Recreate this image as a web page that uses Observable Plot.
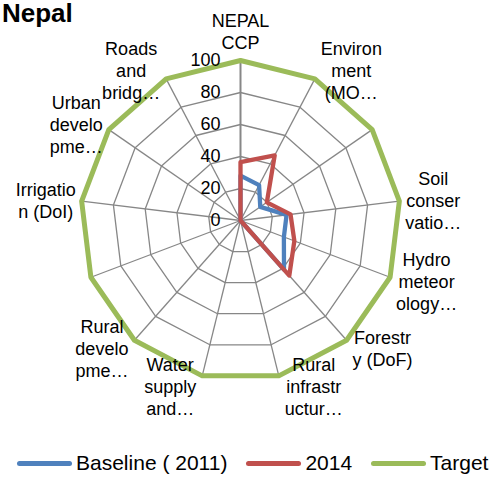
<!DOCTYPE html>
<html>
<head>
<meta charset="utf-8">
<script src="https://cdn.jsdelivr.net/npm/d3@7"></script>
<script src="https://cdn.jsdelivr.net/npm/@observablehq/plot@0.6"></script>
<style>
  html, body { margin: 0; padding: 0; background: #fff; }
  body { font-family: "Liberation Sans", Arial, sans-serif; }
  #wrap { position: relative; width: 494px; height: 478px; overflow: hidden; }
  #title { position: absolute; left: 2px; top: 0px; font-size: 26px; line-height: 27px; font-weight: bold; color: #000; white-space: nowrap; }
  #legend { position: absolute; left: 17px; top: 450px; height: 26px; display: flex; align-items: center; font-size: 21px; line-height: 26px; color: #000; white-space: nowrap; width: 480px; }
  .item { display: flex; align-items: center; margin-right: 19px; white-space: nowrap; flex: none; }
  .sw { width: 55px; height: 5px; border-radius: 3px; margin-right: 4px; flex: none; }
</style>
</head>
<body>
<div id="wrap">
  <div id="chart"></div>
  <div id="title">Nepal</div>
  <div id="legend"></div>
</div>
<script>
// ---- data ----
const categories = [
  "NEPAL\nCCP",
  "Environ\nment\n(MO…",
  "",
  "Soil\nconser\nvatio…",
  "Hydro\nmeteor\nology…",
  "Forestr\ny (DoF)",
  "Rural\ninfrastr\nuctur…",
  "Water\nsupply\nand…",
  "Rural\ndevelo\npme…",
  "",
  "Irrigatio\nn (DoI)",
  "Urban\ndevelo\npme…",
  "Roads\nand\nbridg…"
];
const baseline2011 = [28, 25, 15, 29, 29, 41, 0, 0, 0, 0, 0, 0, 0];
const values2014   = [36.5, 46, 20, 31.5, 36, 46, 0, 0, 0, 0, 0, 0, 0];
const target       = [100, 100, 100, 100, 100, 100, 100, 100, 100, 100, 100, 100, 100];
const seriesNames  = ["Baseline ( 2011)", "2014", "Target"];
const seriesColors = ["#4F81BD", "#C0504D", "#9BBB59"];
const ringLevels   = [20, 40, 60, 80, 100];
const tickValues   = [0, 20, 40, 60, 80, 100];

// ---- layout helpers ----
const n = categories.length;
const ang = i => (i * 2 * Math.PI) / n;
const W = 494, H = 478;
const mL = 80, mR = 94, mT = 60, mB = 98;
const pxPerUnit = (W - mL - mR) / 200; // 1.6
const font = "18px 'Liberation Sans', Arial, sans-serif";

const series = [baseline2011, values2014, target];
const seriesPts = [];
series.forEach((vals, s) => {
  vals.forEach((v, i) => seriesPts.push({s: seriesNames[s], i, v}));
});

const ringPts = [];
ringLevels.forEach(l => {
  for (let i = 0; i < n; i++) ringPts.push({l, i});
});

const spokes = d3.range(n);

// measure label widths
const ctx = document.createElement("canvas").getContext("2d");
ctx.font = font;
const labels = categories
  .map((t, i) => ({t, i}))
  .filter(d => d.t !== "")
  .map(d => {
    const lines = d.t.split("\n");
    const w = d3.max(lines, l => ctx.measureText(l).width);
    const s = Math.sin(ang(d.i)), c = Math.cos(ang(d.i));
    let x, y;
    if (Math.abs(s) < 0.05) {
      x = 0;
      y = 100 + (8 + lines.length * 22 / 2) / pxPerUnit;
    } else {
      x = 100 * s + Math.sign(s) * (6 + w / 2) / pxPerUnit;
      y = 100 * c + (10 * c) / pxPerUnit;
    }
    return {t: d.t, x, y};
  });

const gridColor = "#878787";

const chart = Plot.plot({
  width: W,
  height: H,
  marginLeft: mL,
  marginRight: mR,
  marginTop: mT,
  marginBottom: mB,
  x: {domain: [-100, 100], axis: null},
  y: {domain: [-100, 100], axis: null},
  color: {domain: seriesNames, range: seriesColors},
  style: {fontFamily: "'Liberation Sans', Arial, sans-serif", background: "#fff"},
  marks: [
    Plot.line(ringPts, {
      x: d => d.l * Math.sin(ang(d.i)),
      y: d => d.l * Math.cos(ang(d.i)),
      z: "l",
      curve: "linear-closed",
      stroke: gridColor,
      strokeWidth: 1.3
    }),
    Plot.link(spokes, {
      x1: 0, y1: 0,
      x2: i => 100 * Math.sin(ang(i)),
      y2: i => 100 * Math.cos(ang(i)),
      stroke: gridColor,
      strokeWidth: i => (i === 0 ? 2 : 1.3)
    }),
    Plot.line(seriesPts, {
      x: d => d.v * Math.sin(ang(d.i)),
      y: d => d.v * Math.cos(ang(d.i)),
      z: "s",
      stroke: "s",
      curve: "linear-closed",
      strokeWidth: d => (d.s === "Target" ? 5 : 4.3),
      strokeLinejoin: "round"
    }),
    Plot.text(tickValues, {
      x: 0,
      y: d => d,
      text: d => String(d),
      textAnchor: "end",
      dx: -20,
      fontSize: 18,
      fill: "#000"
    }),
    Plot.text(labels, {
      x: "x",
      y: "y",
      text: "t",
      textAnchor: "middle",
      lineHeight: 22 / 18,
      fontSize: 18,
      fill: "#000"
    })
  ]
});
document.getElementById("chart").appendChild(chart);

// legend
const leg = document.getElementById("legend");
seriesNames.forEach((name, k) => {
  const it = document.createElement("div");
  it.className = "item";
  const sw = document.createElement("div");
  sw.className = "sw";
  sw.style.background = seriesColors[k];
  const tx = document.createElement("span");
  tx.textContent = name;
  it.appendChild(sw);
  it.appendChild(tx);
  leg.appendChild(it);
});
</script>
</body>
</html>
